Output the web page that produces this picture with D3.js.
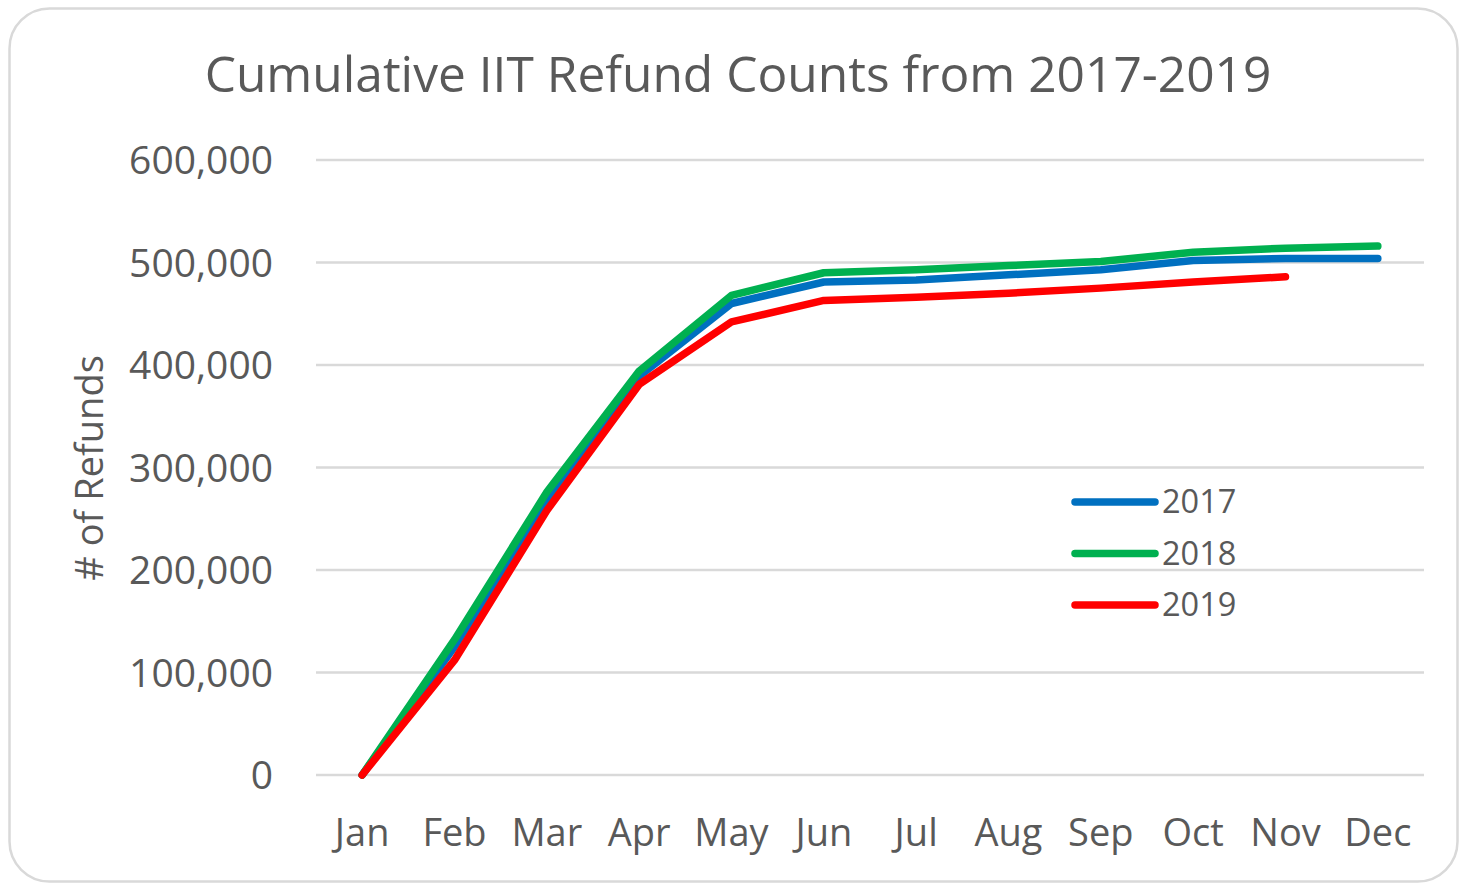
<!DOCTYPE html>
<html>
<head>
<meta charset="utf-8">
<script src="https://cdn.jsdelivr.net/npm/d3@7"></script>
<style>
  body { margin: 0; background: #fff; }
  svg { display: block; }
</style>
</head>
<body>
<div id="chart"></div>
<script>
// Data
var months = ["Jan", "Feb", "Mar", "Apr", "May", "Jun", "Jul", "Aug", "Sep", "Oct", "Nov", "Dec"];
var years = ["2017", "2018", "2019"];
var refunds2017 = [0, 125000, 268000, 389000, 460000, 481000, 483000, 488000, 493000, 502000, 504000, 504000];
var refunds2018 = [0, 132000, 276000, 394000, 468000, 490000, 493000, 497000, 501000, 510000, 514000, 516000];
var refunds2019 = [0, 112000, 258000, 381000, 442000, 463000, 466000, 470000, 475000, 481000, 486000];
var yTicks = [0, 100000, 200000, 300000, 400000, 500000, 600000];

var seriesColors = ["#0070C0", "#00B050", "#FF0000"];
var textColor = "#595959";
var gridColor = "#D9D9D9";
var fontFace = "'Open Sans', sans-serif";

var width = 1460, height = 883;
var margin = { top: 160, right: 36, bottom: 108, left: 316 };

var series = [refunds2017, refunds2018, refunds2019].map(function (vals, i) {
  return { name: years[i], color: seriesColors[i], values: vals };
});

var svg = d3.select("#chart").append("svg")
  .attr("width", width)
  .attr("height", height);

// Rounded chart border
svg.append("rect")
  .attr("x", 9.5).attr("y", 8.5)
  .attr("width", 1448).attr("height", 873)
  .attr("rx", 40).attr("ry", 40)
  .attr("fill", "#fff")
  .attr("stroke", "#D9D9D9")
  .attr("stroke-width", 2.5);

var x = d3.scaleBand()
  .domain(months)
  .range([margin.left, width - margin.right]);

var y = d3.scaleLinear()
  .domain([0, 600000])
  .range([height - margin.bottom, margin.top]);

// Gridlines
svg.append("g")
  .selectAll("line")
  .data(yTicks)
  .join("line")
  .attr("x1", margin.left)
  .attr("x2", width - margin.right)
  .attr("y1", d => y(d))
  .attr("y2", d => y(d))
  .attr("stroke", gridColor)
  .attr("stroke-width", 2.5);

// Y axis labels
var yAxis = svg.append("g")
  .attr("transform", `translate(273,0)`)
  .call(d3.axisLeft(y).tickValues(yTicks).tickSize(0).tickPadding(0).tickFormat(d3.format(",")));
yAxis.select(".domain").remove();
yAxis.selectAll("text")
  .attr("font-family", fontFace)
  .attr("font-size", 39)
  .attr("fill", textColor)
  .attr("dy", "0.35em");

// X axis labels
var xAxis = svg.append("g")
  .attr("transform", `translate(0,${height - margin.bottom})`)
  .call(d3.axisBottom(x).tickSize(0).tickPadding(0));
xAxis.select(".domain").remove();
xAxis.selectAll("text")
  .attr("font-family", fontFace)
  .attr("font-size", 38)
  .attr("fill", textColor)
  .attr("dy", 0)
  .attr("y", 71);

// Y axis title
svg.append("text")
  .attr("transform", "translate(103,468) rotate(-90)")
  .attr("text-anchor", "middle")
  .attr("font-family", fontFace)
  .attr("font-size", 38)
  .attr("fill", textColor)
  .text("# of Refunds");

// Title, scaled to the width it has in the picture
var title = svg.append("text")
  .attr("x", 738)
  .attr("y", 92)
  .attr("text-anchor", "middle")
  .attr("font-family", fontFace)
  .attr("font-size", 44)
  .attr("fill", textColor)
  .text("Cumulative IIT Refund Counts from 2017-2019");
var tw = title.node().getComputedTextLength();
title.attr("font-size", 44 * 1067 / tw);

// Lines
var line = d3.line()
  .x((d, i) => x(months[i]) + x.bandwidth() / 2)
  .y(d => y(d));

svg.append("g")
  .selectAll("path")
  .data(series)
  .join("path")
  .attr("d", d => line(d.values))
  .attr("fill", "none")
  .attr("stroke", d => d.color)
  .attr("stroke-width", 7.5)
  .attr("stroke-linecap", "round")
  .attr("stroke-linejoin", "round");

// Legend
var legend = svg.append("g")
  .selectAll("g")
  .data(series)
  .join("g")
  .attr("transform", (d, i) => `translate(1075,${502 + i * 51.5})`);

legend.append("line")
  .attr("x1", 0).attr("x2", 80)
  .attr("stroke", d => d.color)
  .attr("stroke-width", 7.5)
  .attr("stroke-linecap", "round");

legend.append("text")
  .attr("x", 87)
  .attr("dy", "0.35em")
  .attr("font-family", fontFace)
  .attr("font-size", 32.5)
  .attr("fill", textColor)
  .text(d => d.name);
</script>
</body>
</html>
